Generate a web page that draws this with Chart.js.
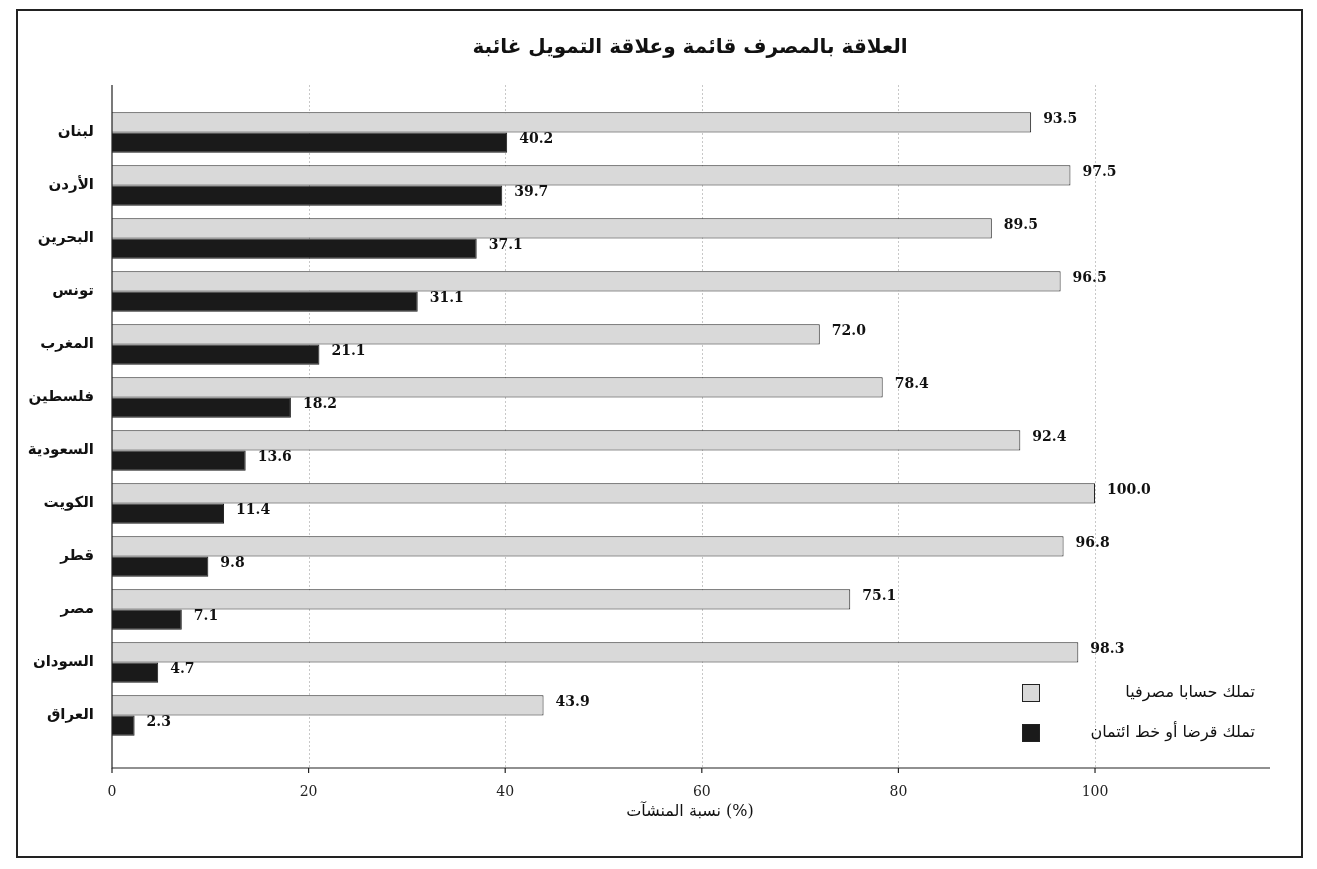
<!DOCTYPE html>
<html>
<head>
<meta charset="utf-8">
<script src="https://cdn.jsdelivr.net/npm/chart.js@4"></script>
<style>
body { margin: 0; background: #fff; }
#wrap { width: 1317px; height: 869px; }
</style>
</head>
<body>
<div id="wrap"><canvas id="myChart" width="1317" height="869"></canvas></div>
<script>
const countries = ['لبنان', 'الأردن', 'البحرين', 'تونس', 'المغرب', 'فلسطين', 'السعودية', 'الكويت', 'قطر', 'مصر', 'السودان', 'العراق'];
const accountValues = [93.5, 97.5, 89.5, 96.5, 72.0, 78.4, 92.4, 100.0, 96.8, 75.1, 98.3, 43.9];
const loanValues = [40.2, 39.7, 37.1, 31.1, 21.1, 18.2, 13.6, 11.4, 9.8, 7.1, 4.7, 2.3];
const xTicks = [0, 20, 40, 60, 80, 100];
const seriesNames = ['تملك حسابا مصرفيا', 'تملك قرضا أو خط ائتمان'];
const titleText = 'العلاقة بالمصرف قائمة وعلاقة التمويل غائبة';
const xTitle = 'نسبة المنشآت (%)';

const fontFam = '"DejaVu Serif", "DejaVu Sans", serif';
const axisTop = 85;
const axisBottom = 768;

// frame, title, grid, axis lines, value labels, legend
const extras = {
    id: 'extras',
    beforeDatasetsDraw(chart) {
        const ctx = chart.ctx;
        const x = chart.scales.x;
        ctx.save();
        ctx.strokeStyle = '#c8c8c8';
        ctx.lineWidth = 1;
        ctx.setLineDash([2, 2]);
        xTicks.forEach(t => {
            if (t == 0) return;
            let px = Math.round(x.getPixelForValue(t)) + 0.5;
            ctx.beginPath();
            ctx.moveTo(px, axisTop);
            ctx.lineTo(px, axisBottom);
            ctx.stroke();
        });
        ctx.restore();
    },
    afterDraw(chart) {
        const ctx = chart.ctx;
        const x = chart.scales.x;
        ctx.save();
        ctx.strokeStyle = '#222';
        ctx.lineWidth = 2;
        ctx.strokeRect(17, 10, 1285, 847);

        // axes
        ctx.lineWidth = 1.2;
        ctx.beginPath();
        ctx.moveTo(112, axisTop);
        ctx.lineTo(112, axisBottom);
        ctx.lineTo(1270, axisBottom);
        ctx.stroke();
        xTicks.forEach(t => {
            let px = x.getPixelForValue(t);
            ctx.beginPath();
            ctx.moveTo(px, axisBottom);
            ctx.lineTo(px, axisBottom + 5);
            ctx.stroke();
        });

        ctx.fillStyle = '#111';
        ctx.textAlign = 'center';
        ctx.textBaseline = 'middle';
        ctx.font = 'bold 20px ' + fontFam;
        ctx.fillText(titleText, 690, 48);
        ctx.font = '16px ' + fontFam;
        ctx.fillText(xTitle, 690, 812);

        // value labels
        ctx.font = 'bold 14px ' + fontFam;
        ctx.textAlign = 'left';
        chart.data.datasets.forEach((ds, i) => {
            chart.getDatasetMeta(i).data.forEach((bar, j) => {
                ctx.fillText(ds.data[j].toFixed(1), bar.x + 12, bar.y - 3);
            });
        });

        // legend
        const legendY = [693, 733];
        const fills = ['#d9d9d9', '#1a1a1a'];
        ctx.font = '16px ' + fontFam;
        ctx.textAlign = 'right';
        ctx.direction = 'rtl';
        for (let i = 0; i < 2; i++) {
            ctx.fillStyle = fills[i];
            ctx.fillRect(1022, legendY[i] - 9, 18, 18);
            ctx.strokeStyle = '#222';
            ctx.lineWidth = 1;
            ctx.strokeRect(1022.5, legendY[i] - 8.5, 17, 17);
            ctx.fillStyle = '#111';
            ctx.fillText(seriesNames[i], 1255, legendY[i]);
        }
        ctx.restore();
    }
};

const config = {
    type: 'bar',
    data: {
        labels: countries,
        datasets: [{
            label: seriesNames[0],
            data: accountValues,
            backgroundColor: '#d9d9d9',
            borderColor: '#222',
            borderWidth: 1,
            barPercentage: 1,
            categoryPercentage: 0.76
        }, {
            label: seriesNames[1],
            data: loanValues,
            backgroundColor: '#1a1a1a',
            borderColor: '#1a1a1a',
            borderWidth: 1,
            barPercentage: 1,
            categoryPercentage: 0.76
        }]
    },
    options: {
        indexAxis: 'y',
        responsive: false,
        animation: false,
        layout: { padding: { left: 20, right: 47, top: 106, bottom: 20 } },
        plugins: { legend: { display: false }, tooltip: { enabled: false } },
        scales: {
            x: {
                min: 0,
                max: 117.8,
                afterBuildTicks: axis => { axis.ticks = xTicks.map(v => ({ value: v })); },
                afterFit: axis => { axis.height = 107; },
                grid: { display: false },
                border: { display: false },
                ticks: { color: '#222', padding: 34, font: { family: fontFam, size: 14 } }
            },
            y: {
                afterFit: axis => { axis.width = 92; },
                grid: { display: false },
                border: { display: false },
                ticks: { color: '#111', padding: 10, font: { family: fontFam, size: 15, weight: 'bold' } }
            }
        }
    },
    plugins: [extras]
};

let myChart = new Chart(document.getElementById('myChart'), config);
</script>
</body>
</html>
